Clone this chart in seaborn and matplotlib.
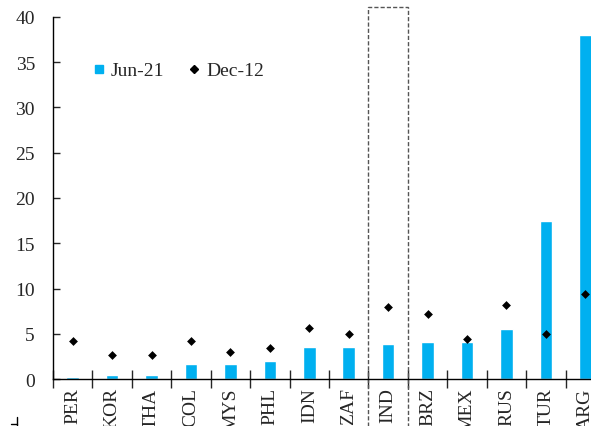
import numpy as np
import pandas as pd
import matplotlib
matplotlib.use("Agg")
import matplotlib.pyplot as plt
import seaborn as sns
from matplotlib.lines import Line2D
from matplotlib.patches import Rectangle

# données
countries = ['PER', 'KOR', 'THA', 'COL', 'MYS', 'PHL', 'IDN', 'ZAF',
             'IND', 'BRZ', 'MEX', 'RUS', 'TUR', 'ARG']
jun21 = [0.2, 0.5, 0.5, 1.7, 1.7, 2.0, 3.5, 3.5, 3.9, 4.1, 4.1, 5.5, 17.5, 38.0]
dec12 = [4.2, 2.7, 2.7, 4.2, 3.0, 3.4, 5.6, 5.0, 8.0, 7.2, 4.4, 8.2, 5.0, 9.4]
highlight = 'IND'

df = pd.DataFrame({'country': countries, 'Jun-21': jun21, 'Dec-12': dec12})

sns.set_style("white")
plt.rcParams['font.family'] = ['Liberation Serif', 'DejaVu Serif']

blue = '#00B0F0'

fig = plt.figure(figsize=(5.91, 4.27), dpi=100)
# l'axe déborde à droite comme dans la capture d'origine
ax = fig.add_axes([0.0897, 0.110, 0.934, 0.848])

sns.barplot(data=df, x='country', y='Jun-21', color=blue, width=0.32,
            saturation=1, ax=ax)
sns.stripplot(data=df, x='country', y='Dec-12', jitter=False, marker='D',
              color='black', size=4.5, ax=ax)

ax.set_ylim(0, 40)
ax.set_xlim(-0.5, len(countries) - 0.5)
ax.set_yticks(range(0, 41, 5))
ax.set_xlabel('')
ax.set_ylabel('')

sns.despine(ax=ax, top=True, right=True)
for s in ['left', 'bottom']:
    ax.spines[s].set_color('black')
    ax.spines[s].set_linewidth(1)

ax.tick_params(axis='y', direction='in', length=5, width=1, labelsize=14,
               pad=13, left=True)
ax.tick_params(axis='x', which='major', length=0, labelsize=14, pad=6,
               labelrotation=90)
ax.set_xticks(np.arange(-0.5, len(countries)), minor=True)
ax.tick_params(axis='x', which='minor', direction='inout', length=13,
               width=1, bottom=True)

# cadre pointillé autour de l'Inde
i = countries.index(highlight)
rect = Rectangle((i - 0.5, -6), 1, 47.1, fill=False, edgecolor='#555555',
                 linestyle=(0, (3, 1.5)), linewidth=1, clip_on=False)
ax.add_patch(rect)

handles = [Line2D([], [], marker='s', color=blue, ls='', markersize=6),
           Line2D([], [], marker='D', color='black', ls='', markersize=4)]
ax.legend(handles, ['Jun-21', 'Dec-12'], ncol=2, frameon=False,
          loc='center left', bbox_to_anchor=(0.041, 0.852), fontsize=14,
          handlelength=0.6, handletextpad=0.3, columnspacing=1.25)

# petit trait résiduel en bas à gauche
fig.add_artist(Line2D([17 / 591, 17 / 591], [0, 9 / 427], color='black', lw=1))
fig.add_artist(Line2D([11 / 591, 17 / 591], [2 / 427, 2 / 427], color='black', lw=1))

fig.savefig('out.png', dpi=100)
